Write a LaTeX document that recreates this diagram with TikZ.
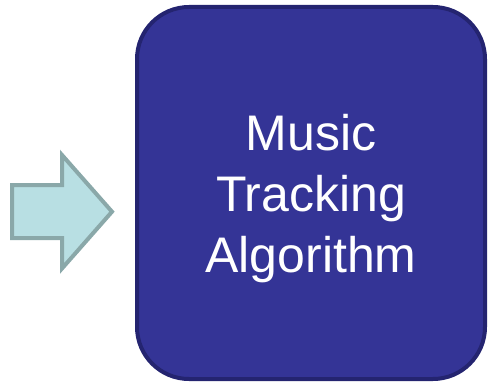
\documentclass[tikz,border=0pt]{standalone}
\usepackage{fontspec}
\setmainfont{Liberation Sans}
\definecolor{arrowfill}{HTML}{B8DFE3}
\definecolor{arrowline}{HTML}{8AA8A9}
\definecolor{boxfill}{HTML}{343496}
\definecolor{boxline}{HTML}{242470}
\tikzset{
  blockarrow/.style={fill=arrowfill, draw=arrowline, line width=4pt, line join=miter},
  algobox/.style={fill=boxfill, draw=boxline, line width=4pt, rounded corners=52pt},
  boxlabel/.style={text=white, align=center, font=\fontsize{50}{61}\selectfont, inner sep=0pt}
}
\begin{document}
\begin{tikzpicture}[x=1pt,y=1pt]
  \useasboundingbox (0,0) rectangle (488,384);
  % input arrow
  \draw[blockarrow] (12,146) -- (62,146) -- (62,115.5) -- (112,172.3)
        -- (62,229) -- (62,199) -- (12,199) -- cycle;
  % algorithm block
  \draw[algobox] (137,5) rectangle (485,377);
  \coordinate (boxc) at (311,191);
  \node[boxlabel, yshift=-6pt] (label) at (boxc) {Music\\Tracking\\Algorithm};
\end{tikzpicture}
\end{document}
